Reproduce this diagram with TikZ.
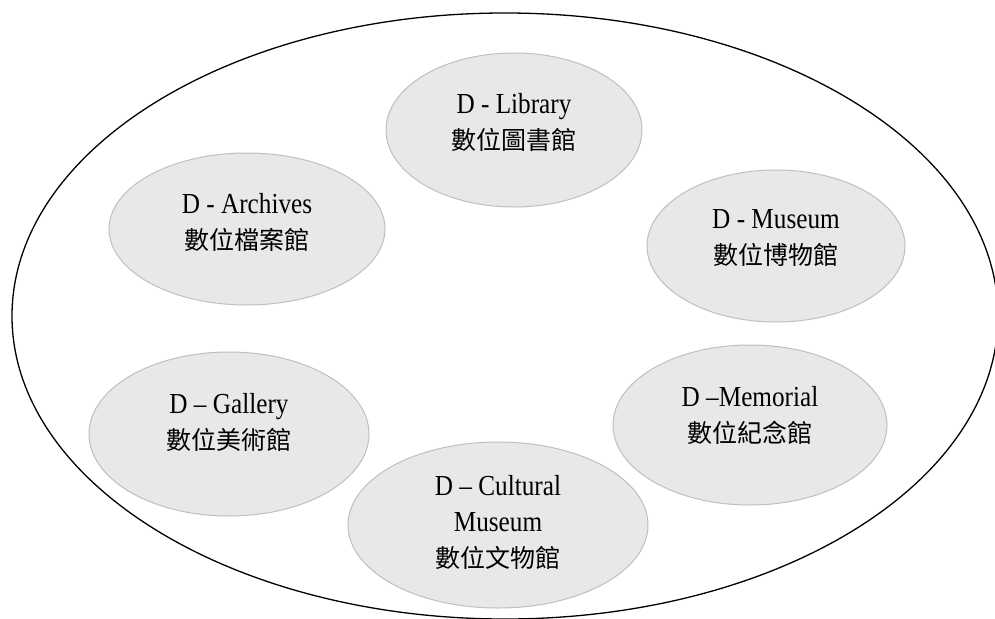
\documentclass[tikz,border=0pt]{standalone}
\usepackage{fontspec}
\setmainfont[FakeStretch=0.87]{Liberation Serif}
\newfontfamily\cjk{Noto Sans CJK TC}
\usetikzlibrary{shapes.geometric}
\begin{document}
\begin{tikzpicture}[x=1pt,y=-1pt,
  blob/.style={ellipse, draw=black!25, line width=1pt, fill=black!9, inner sep=0pt},
  lbl/.style={align=center, font=\fontsize{29}{36}\selectfont, inner sep=0pt}
]
\useasboundingbox (0,0) rectangle (995,618);
\node[ellipse, draw=black, line width=1.3pt, minimum width=986pt, minimum height=606pt, inner sep=0pt] (world) at (505,316) {};

\node[blob, minimum width=256pt, minimum height=154pt] (lib) at (514,130) {};
\node[lbl] (libt) at ([yshift=8pt]lib.center) {D - Library\\{\cjk\fontsize{25}{36}\selectfont 數位圖書館}};

\node[blob, minimum width=276pt, minimum height=152pt] (arc) at (247,229) {};
\node[lbl] (arct) at ([yshift=7pt]arc.center) {D - Archives\\{\cjk\fontsize{25}{36}\selectfont 數位檔案館}};

\node[blob, minimum width=258pt, minimum height=152pt] (mus) at (776,246) {};
\node[lbl] (must) at ([yshift=8pt]mus.center) {D - Museum\\{\cjk\fontsize{25}{36}\selectfont 數位博物館}};

\node[blob, minimum width=280pt, minimum height=164pt] (gal) at (229,434) {};
\node[lbl] (galt) at ([yshift=12pt]gal.center) {D -- Gallery\\{\cjk\fontsize{25}{36}\selectfont 數位美術館}};

\node[blob, minimum width=274pt, minimum height=160pt] (mem) at (750,425) {};
\node[lbl] (memt) at ([yshift=10pt]mem.center) {D --Memorial\\{\cjk\fontsize{25}{36}\selectfont 數位紀念館}};

\node[blob, minimum width=300pt, minimum height=166pt] (cul) at (498,525) {};
\node[lbl] (cult) at ([yshift=3pt]cul.center) {D -- Cultural\\Museum\\{\cjk\fontsize{25}{36}\selectfont 數位文物館}};
\end{tikzpicture}
\end{document}
